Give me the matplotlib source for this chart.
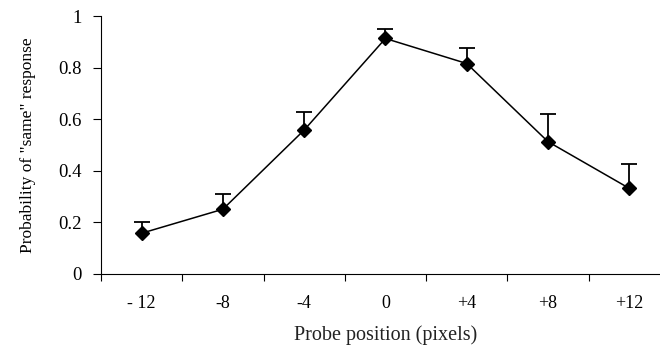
import numpy as np
import matplotlib
matplotlib.use('Agg')
import matplotlib.pyplot as plt

plt.rcParams['font.family'] = ['Liberation Serif', 'DejaVu Serif']

positions = ['- 12', '-8', '-4', '0', '+4', '+8', '+12']
prob_same = [0.158, 0.251, 0.558, 0.913, 0.816, 0.513, 0.332]
err_upper = [0.045, 0.058, 0.071, 0.035, 0.061, 0.107, 0.094]

fig = plt.figure(figsize=(6.6, 3.49), dpi=100)
ax = fig.add_axes([0.153, 0.215, 0.862, 0.739])

x = np.arange(len(positions)) + 0.5
y = np.array(prob_same)
err = np.array(err_upper)

# upward-only error bars with a cap at the top
ax.errorbar(x, y, yerr=[np.zeros_like(err), err], fmt='none', ecolor='black',
            elinewidth=1.3, capsize=0, zorder=2)
ax.plot(x, y + err, linestyle='none', marker='_', markersize=11,
        markeredgewidth=1.3, color='black', zorder=2)
ax.plot(x, y, color='black', linewidth=1.1, marker='D', markersize=7, zorder=3)

ax.set_xlim(0, len(positions))
ax.set_ylim(0, 1)
ax.set_yticks([0, 0.2, 0.4, 0.6, 0.8, 1.0])
ax.set_yticklabels(['0', '0.2', '0.4', '0.6', '0.8', '1'])

# tick marks between categories, labels at the centres
ax.set_xticks(np.arange(len(positions) + 1))
ax.set_xticklabels([])
ax.set_xticks(x, minor=True)
ax.set_xticklabels(positions, minor=True)
ax.tick_params(axis='x', which='major', direction='out', length=5, width=0.8)
ax.tick_params(axis='x', which='minor', length=0, pad=15, labelsize=13)
ax.tick_params(axis='y', direction='out', length=6, width=0.8, pad=8, labelsize=13.5)

for side in ['top', 'right']:
    ax.spines[side].set_visible(False)
for side in ['left', 'bottom']:
    ax.spines[side].set_linewidth(0.8)

ax.set_xlabel('Probe position (pixels)', fontsize=14.5, labelpad=10, color='#222222')
ax.set_ylabel('Probability of "same" response', fontsize=12.5, labelpad=16)

fig.savefig('out.png', dpi=100)
